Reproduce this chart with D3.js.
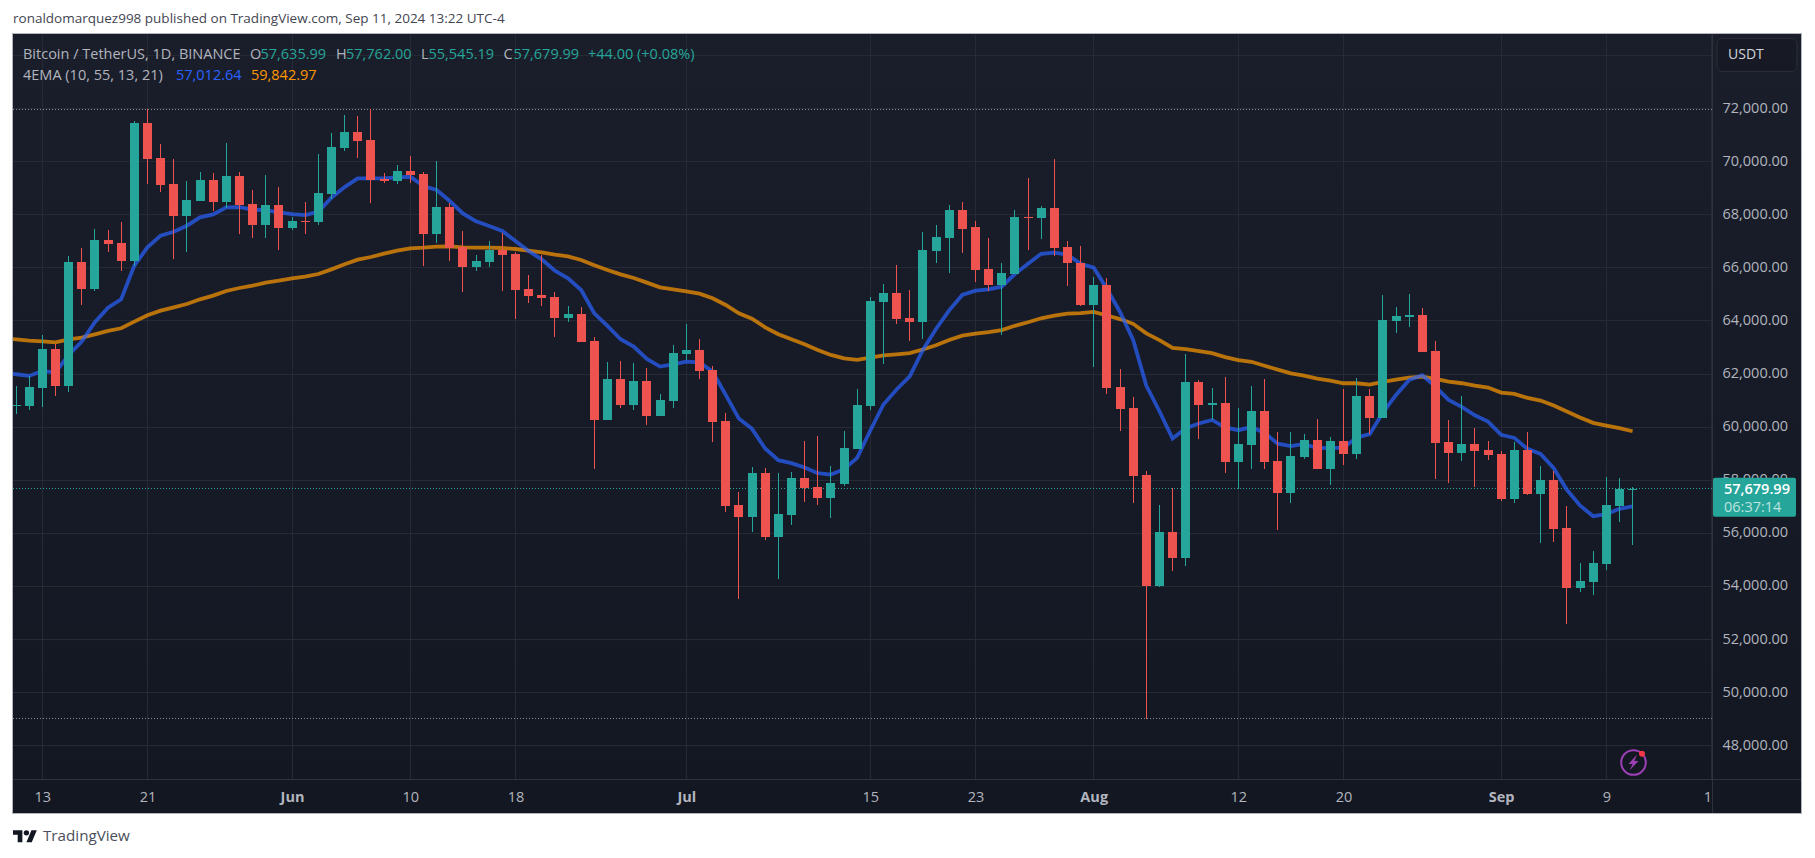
<!DOCTYPE html>
<html>
<head>
	<title>BTCUSDT 1D - 4EMA</title>
	<script src="https://d3js.org/d3.v7.min.js"></script>
	<style>
		* { margin: 0px; padding: 0px; }
		body { background: #ffffff; overflow: hidden; }
		text { font-family: "Open Sans", "Noto Sans", sans-serif; }
	</style>
</head>
<body>
	<svg id="SVGcanvas" width="1815" height="858" xmlns="http://www.w3.org/2000/svg"></svg>

	<script>
	// daily candles, 11 May to 11 Sep 2024
	var opens = [
		60799,60799,61476,62945,61552,66220,65204,67049,66936,66258,71454,70136,69157,67952,68517,69308,68479,69458,68404,67613,68366,
		67500,67764,67726,68780,70512,71115,70814,69345,69270,69646,69533,67274,68291,66785,66032,66220,66672,66521,65204,64978,64903,64112,64262,63246,60272,61815,60836,61740,60422,60987,
		62756,62907,62154,60234,57071,56620,58276,55867,56695,58088,57749,57335,57862,59180,60799,64714,65038,64100,63951,66618,67109,68167,67527,65947,65336,65753,67899,67870,68242,66767,66200,
		64591,65336,61492,60702,58184,53997,56039,55085,61686,60822,60926,58691,59317,60598,58706,57499,58879,59519,58427,59481,58991,61175,60347,63999,64150,64225,62869,59443,59029,59368,59142,
		58991,57297,59142,57485,58013,56205,53946,54172,54850,57034,57635.99
	];
	var highs = [
		61552,61928,63459,63133,66446,66747,67463,67425,67726,71529,71981,70663,70098,69270,69609,69571,70701,69609,68931,69496,69044,
		67915,68479,70286,71077,71755,71717,71981,69571,69872,70211,69609,70023,68442,67387,66484,67011,67312,66597,65731,66484,65091,64564,64526,63397,62455,62493,62418,62229,61250,63095,
		63886,63321,62305,60535,57561,58502,58464,58276,58314,59481,59669,58540,59857,61439,64903,65392,66111,65157,67363,67601,68361,68465,67750,67109,66171,68182,69404,68316,70089,67005,66841,
		65664,65604,62207,61120,58333,57052,57722,62744,61760,61462,61879,60702,61567,61805,59823,59823,59744,60309,59632,61439,61853,61439,64978,64526,65015,64488,63246,60272,61175,59970,59481,
		59104,59443,59820,58540,58351,57034,54888,55339,58126,58088,57762
	];
	var lows = [
		60497,60648,60774,61188,61326,64601,65128,66597,65881,66070,69157,68856,66333,66597,68517,68140,68253,67274,67124,67124,66672,
		67425,67274,67613,68592,70399,70136,68442,69195,69157,69195,66070,66936,66258,65091,65881,66032,65128,64074,64677,64564,63397,63961,63208,58427,60272,60723,60648,60083,60422,60723,
		62531,61815,59443,56808,53532,56055,55754,54285,56318,57184,57071,56582,57787,59180,60648,62380,63876,63235,63310,66200,65798,66543,65455,65113,63459,65753,66662,67080,66439,65306,64547,
		62282,61239,59838,57126,49021,53968,54564,54757,59540,60255,58289,57663,58408,58438,56113,57126,58803,58427,57824,58577,58803,59744,60347,63547,63773,62832,58050,57900,58728,57749,58766,
		57222,57147,57448,55641,55678,52591,53796,53683,54624,56431,55545.19
	];
	var closes = [
		60824,61514,62945,61552,66220,65204,67049,66898,66258,71454,70098,69119,67952,68555,69308,68479,69458,68366,67613,68366,67500,
		67764,67726,68818,70550,71115,70776,69308,69270,69646,69496,67274,68291,66747,66032,66258,66672,66484,65166,64940,64865,64112,64262,63208,60272,61815,60836,61740,60422,61025,62794,
		62907,62116,60196,57034,56620,58276,55867,56732,58088,57711,57335,57900,59217,60836,64752,65053,64055,63951,66662,67154,68167,67482,65902,65336,65798,67899,67870,68242,66737,66171,64591,
		65336,61462,60673,58140,53997,56039,55085,61686,60822,60926,58691,59346,60598,58691,57499,58900,59519,58427,59481,58991,61175,60347,64037,64187,64225,62832,59406,59029,59368,59104,58954,
		57297,59142,57485,58013,56168,53946,54210,54888,57071,57674,57679.99
	];

	// the two moving averages, these start one day earlier (10 May) so they run off the left edge
	var emaFast = [
		62079,61991,61928,62116,62054,62719,63221,63949,64501,64815,66082,66772,67212,67362,67588,67902,68015,68278,68291,68191,68178,68090,
		68027,67990,68115,68642,69044,69370,69370,69370,69408,69433,69082,68931,68517,68053,67751,67576,67387,67011,66634,66321,65894,65605,65166,64288,63811,63309,63033,62568,62280,62367,
		62468,62443,62091,61213,60322,59933,59192,58753,58640,58477,58264,58213,58414,58841,59870,60851,61418,61909,62908,63697,64398,64979,65143,65187,65292,65768,66156,66528,66573,66498,66156,
		66007,65217,64338,63280,61567,60598,59570,59957,60136,60270,59987,59883,60002,59779,59376,59287,59368,59205,59217,59217,59606,59732,60548,61213,61778,61953,61527,61025,60761,60447,60209,
		59707,59594,59180,58991,58452,57636,57046,56645,56720,56921,57012.64
	];
	var emaSlow = [
		63334,63309,63258,63233,63196,63309,63371,63497,63622,63723,63974,64212,64388,64513,64639,64815,64953,65128,65241,65329,65442,65517,
		65605,65668,65768,65944,66132,66308,66409,66534,66647,66735,66760,66798,66810,66772,66760,66760,66747,66710,66647,66584,66496,66434,66296,66095,65919,65756,65618,65442,65266,65191,
		65116,65028,64852,64601,64288,64087,63760,63497,63309,63120,62907,62719,62593,62531,62618,62699,62744,62788,62922,63086,63280,63444,63518,63578,63653,63816,63951,64100,64204,64278,64293,
		64338,64204,64070,63891,63533,63280,62982,62937,62863,62788,62639,62520,62461,62312,62163,62028,61941,61828,61752,61652,61652,61602,61702,61790,61865,61903,61815,61715,61652,61564,61489,
		61301,61250,61100,60999,60811,60585,60359,60159,60058,59958,59842.97
	];

	// axis labels
	var priceLabels = [72000,70000,68000,66000,64000,62000,60000,58000,56000,54000,52000,50000,48000];
	var priceGrid = [74000].concat(priceLabels);
	var dateTicks = ["2024-05-13","2024-05-21","2024-06-01","2024-06-10","2024-06-18","2024-07-01","2024-07-15","2024-07-23","2024-08-01","2024-08-12","2024-08-20","2024-09-01","2024-09-09","2024-09-17"];
	var monthNames = { "2024-06-01": "Jun", "2024-07-01": "Jul", "2024-08-01": "Aug", "2024-09-01": "Sep" };

	var GREEN = "#26a69a", RED = "#ef5350";
	var paneLeft = 13, paneRight = 1712, paneTop = 34, paneBottom = 779, frameRight = 1801, frameBottom = 813;

	var svg = d3.select( "#SVGcanvas" );

	function dayOf( i ) {
		return d3.utcDay.offset( new Date( Date.UTC( 2024, 4, 11 ) ), i );
	}

	var x = d3.scaleUtc()
		.domain( [ new Date( "2024-05-13" ), new Date( "2024-09-09" ) ] )
		.range( [ 42.3, 1606.3 ] );
	var y = d3.scaleLinear()
		.domain( [ 48000, 72000 ] )
		.range( [ 745.6, 108.6 ] );

	// background
	var defs = svg.append( "defs" );
	var grad = defs.append( "linearGradient" ).attr( "id", "bg" )
		.attr( "x1", 0 ).attr( "y1", 0 ).attr( "x2", 0 ).attr( "y2", 1 );
	grad.append( "stop" ).attr( "offset", "0%" ).attr( "stop-color", "#1a1e2b" );
	grad.append( "stop" ).attr( "offset", "100%" ).attr( "stop-color", "#131722" );
	defs.append( "clipPath" ).attr( "id", "pane" ).append( "rect" )
		.attr( "x", paneLeft ).attr( "y", paneTop )
		.attr( "width", paneRight - paneLeft ).attr( "height", paneBottom - paneTop );
	defs.append( "clipPath" ).attr( "id", "timeAxis" ).append( "rect" )
		.attr( "x", paneLeft ).attr( "y", paneBottom )
		.attr( "width", paneRight - paneLeft ).attr( "height", frameBottom - paneBottom );

	svg.append( "rect" )
		.attr( "x", paneLeft ).attr( "y", paneTop )
		.attr( "width", frameRight - paneLeft ).attr( "height", frameBottom - paneTop )
		.attr( "fill", "url(#bg)" );

	// grid
	var gridColor = "#262a35";
	var grid = svg.append( "g" ).attr( "clip-path", "url(#pane)" ).attr( "shape-rendering", "crispEdges" );
	grid.selectAll( "line.h" ).data( priceGrid ).enter().append( "line" )
		.attr( "x1", paneLeft ).attr( "x2", paneRight )
		.attr( "y1", function ( d ) { return Math.floor( y( d ) ) + 0.5; } )
		.attr( "y2", function ( d ) { return Math.floor( y( d ) ) + 0.5; } )
		.attr( "stroke", gridColor );
	grid.selectAll( "line.v" ).data( dateTicks ).enter().append( "line" )
		.attr( "y1", paneTop ).attr( "y2", paneBottom )
		.attr( "x1", function ( d ) { return Math.floor( x( new Date( d ) ) ) + 0.5; } )
		.attr( "x2", function ( d ) { return Math.floor( x( new Date( d ) ) ) + 0.5; } )
		.attr( "stroke", gridColor );

	var marks = svg.append( "g" ).attr( "clip-path", "url(#pane)" );

	// append one horizontal dotted line across the pane
	function dottedLine( value, color ) {
		marks.append( "line" )
			.attr( "x1", paneLeft ).attr( "x2", paneRight )
			.attr( "y1", Math.floor( y( value ) ) + 0.5 ).attr( "y2", Math.floor( y( value ) ) + 0.5 )
			.attr( "stroke", color )
			.attr( "stroke-dasharray", "1 2" )
			.attr( "shape-rendering", "crispEdges" );
	}
	dottedLine( d3.max( highs ), "#8b8e98" );
	dottedLine( d3.min( lows ), "#8b8e98" );
	dottedLine( closes[closes.length - 1], GREEN );

	// moving averages go under the candles
	function emaLine( values, color ) {
		var line = d3.line()
			.x( function ( d, i ) { return x( dayOf( i - 1 ) ); } )
			.y( function ( d ) { return y( d ); } );
		marks.append( "path" )
			.attr( "d", line( values ) )
			.attr( "fill", "none" )
			.attr( "stroke", color )
			.attr( "stroke-opacity", 0.7 )
			.attr( "stroke-width", 3.8 );
	}
	emaLine( emaSlow, "#ff9800" );
	emaLine( emaFast, "#2962ff" );

	// candles
	var candle = marks.selectAll( "g.candle" ).data( closes ).enter().append( "g" )
		.attr( "shape-rendering", "crispEdges" )
		.attr( "fill", function ( d, i ) { return d >= opens[i] ? GREEN : RED; } );
	candle.append( "rect" )
		.attr( "x", function ( d, i ) { return Math.floor( x( dayOf( i ) ) ); } )
		.attr( "width", 1 )
		.attr( "y", function ( d, i ) { return Math.round( y( highs[i] ) ); } )
		.attr( "height", function ( d, i ) { return Math.round( y( lows[i] ) ) - Math.round( y( highs[i] ) ); } );
	candle.append( "rect" )
		.attr( "x", function ( d, i ) { return Math.floor( x( dayOf( i ) ) ) - 4; } )
		.attr( "width", 9 )
		.attr( "y", function ( d, i ) { return Math.round( y( Math.max( d, opens[i] ) ) ); } )
		.attr( "height", function ( d, i ) {
			return Math.max( 1, Math.round( y( Math.min( d, opens[i] ) ) ) - Math.round( y( Math.max( d, opens[i] ) ) ) );
		} );

	// price axis
	var priceAxis = d3.axisRight( y )
		.tickValues( priceLabels )
		.tickSize( 0 )
		.tickPadding( 0 )
		.tickFormat( d3.format( ",.2f" ) );
	var priceG = svg.append( "g" ).attr( "transform", "translate(1722.5,-1)" ).call( priceAxis );
	priceG.select( ".domain" ).remove();
	priceG.selectAll( "text" )
		.attr( "fill", "#b2b5be" )
		.style( "font-size", "14.5px" )
		.style( "font-family", "'Open Sans', sans-serif" );

	// time axis, the last label is cut by the price scale as in the original
	var timeAxis = d3.axisBottom( x )
		.tickValues( dateTicks.map( function ( d ) { return new Date( d ); } ) )
		.tickSize( 0 )
		.tickPadding( 0 )
		.tickFormat( function ( d ) {
			var key = d.toISOString().slice( 0, 10 );
			return monthNames[key] || d.getUTCDate();
		} );
	var timeG = svg.append( "g" )
		.attr( "clip-path", "url(#timeAxis)" )
		.append( "g" )
		.attr( "transform", "translate(0,792)" )
		.call( timeAxis );
	timeG.select( ".domain" ).remove();
	timeG.selectAll( "text" )
		.attr( "fill", "#b2b5be" )
		.style( "font-size", "14.5px" )
		.style( "font-family", "'Open Sans', sans-serif" )
		.style( "font-weight", function ( d ) { return monthNames[d.toISOString().slice( 0, 10 )] ? 700 : 400; } );

	// separators and frame
	var seps = svg.append( "g" ).attr( "shape-rendering", "crispEdges" ).attr( "stroke", "#2f323d" );
	seps.append( "line" ).attr( "x1", paneRight + 0.5 ).attr( "x2", paneRight + 0.5 ).attr( "y1", paneTop ).attr( "y2", frameBottom );
	seps.append( "line" ).attr( "x1", paneLeft ).attr( "x2", frameRight ).attr( "y1", paneBottom + 0.5 ).attr( "y2", paneBottom + 0.5 );
	svg.append( "rect" )
		.attr( "x", paneLeft - 0.5 ).attr( "y", paneTop - 0.5 )
		.attr( "width", frameRight - paneLeft + 1 ).attr( "height", frameBottom - paneTop + 1 )
		.attr( "fill", "none" ).attr( "stroke", "#b2b5be" )
		.attr( "shape-rendering", "crispEdges" );

	// currency box
	svg.append( "rect" )
		.attr( "x", 1717 ).attr( "y", 38.5 ).attr( "width", 80 ).attr( "height", 33 ).attr( "rx", 5 )
		.attr( "fill", "#171a25" ).attr( "stroke", "#2a2e39" );
	addText( 1728, 54.5, "USDT", "#d1d4dc", 14 );

	// last price tag
	var lastY = y( closes[closes.length - 1] );
	svg.append( "rect" )
		.attr( "x", 1713 ).attr( "y", lastY - 11 ).attr( "width", 83 ).attr( "height", 39 ).attr( "rx", 2 )
		.attr( "fill", GREEN );
	addText( 1724, lastY + 0.5, d3.format( ",.2f" )( closes[closes.length - 1] ), "#ffffff", 14.5, 600 );
	addText( 1724, lastY + 18.5, "06:37:14", "#ffffff", 14.5 ).attr( "fill-opacity", 0.7 );

	function addText( tx, ty, str, color, size, weight ) {
		return svg.append( "text" )
			.attr( "x", tx ).attr( "y", ty )
			.attr( "dy", "0.35em" )
			.attr( "fill", color )
			.style( "font-size", size + "px" )
			.style( "font-weight", weight || 400 )
			.text( str );
	}

	// legend
	var f2 = d3.format( ",.2f" ), last = closes.length - 1;
	var GREY = "#b2b5be";
	addText( 23, 53.5, "Bitcoin / TetherUS, 1D, BINANCE", GREY, 14.5 );
	addText( 250, 53.5, "O", GREY, 14.5 );
	addText( 260.5, 53.5, f2( opens[last] ), GREEN, 14.5 );
	addText( 336, 53.5, "H", GREY, 14.5 );
	addText( 346, 53.5, f2( highs[last] ), GREEN, 14.5 );
	addText( 421, 53.5, "L", GREY, 14.5 );
	addText( 428.5, 53.5, f2( lows[last] ), GREEN, 14.5 );
	addText( 503.5, 53.5, "C", GREY, 14.5 );
	addText( 513.5, 53.5, f2( closes[last] ), GREEN, 14.5 );
	addText( 588, 53.5, "+44.00 (+0.08%)", GREEN, 14.5 );
	addText( 23, 74.5, "4EMA (10, 55, 13, 21)", GREY, 14.5 );
	addText( 176, 74.5, f2( emaFast[emaFast.length - 1] ), "#2962ff", 14.5 );
	addText( 251, 74.5, f2( emaSlow[emaSlow.length - 1] ), "#ff9800", 14.5 );

	// header and footer
	addText( 13, 18.5, "ronaldomarquez998 published on TradingView.com, Sep 11, 2024 13:22 UTC-4", "#434651", 13.5 );
	svg.append( "path" )
		.attr( "transform", "translate(13,827.5) scale(0.67)" )
		.attr( "d", "M14 22H7V11H0V4h14v18zM28 22h-8l7.5-18h8L28 22z" )
		.attr( "fill", "#131722" );
	svg.append( "circle" )
		.attr( "cx", 13 + 20 * 0.67 ).attr( "cy", 827.5 + 8 * 0.67 ).attr( "r", 4 * 0.67 )
		.attr( "fill", "#131722" );
	addText( 43, 836, "TradingView", "#4a4e5a", 15.2 );

	// lightning badge
	svg.append( "circle" )
		.attr( "cx", 1633.5 ).attr( "cy", 762.5 ).attr( "r", 12.3 )
		.attr( "fill", "none" ).attr( "stroke", "#9c3fb5" ).attr( "stroke-width", 2 );
	svg.append( "path" )
		.attr( "transform", "translate(1633.5,762.5)" )
		.attr( "d", "M3.5 -8L-5 1.5H-0.8L-4 8L5 -1.5H0.8z" )
		.attr( "fill", "#9c3fb5" );
	svg.append( "circle" )
		.attr( "cx", 1642 ).attr( "cy", 753.7 ).attr( "r", 3 )
		.attr( "fill", "#f23645" );
	</script>
</body>
</html>
